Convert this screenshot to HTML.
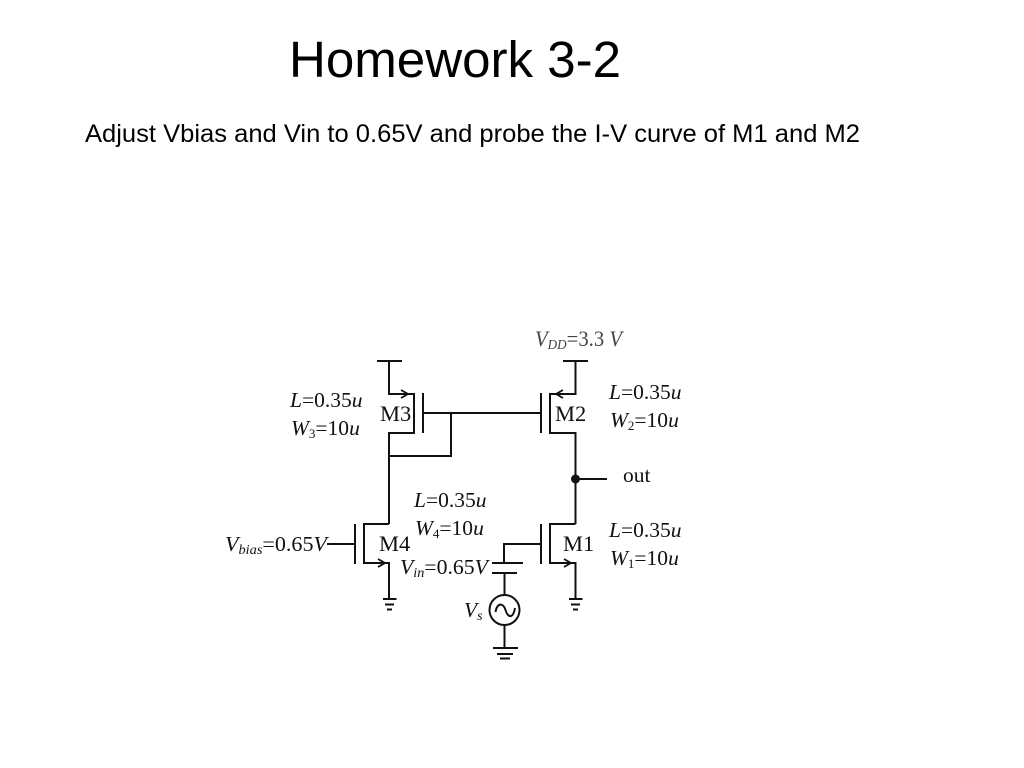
<!DOCTYPE html>
<html>
<head>
<meta charset="utf-8">
<style>
html,body{margin:0;padding:0;background:#fff;width:1024px;height:768px;overflow:hidden}
svg{display:block}
.s{font-family:"Liberation Sans",sans-serif;fill:#000}
.t{font-family:"Liberation Serif",serif;fill:#111;font-size:21.5px}
.m{font-size:22.5px}
.i{font-style:italic}
.w{fill:none;stroke:#111;stroke-width:2}
</style>
</head>
<body>
<svg width="1024" height="768" viewBox="0 0 1024 768" xmlns="http://www.w3.org/2000/svg">
<text class="s" x="289" y="77" font-size="50.600" textLength="332" lengthAdjust="spacingAndGlyphs">Homework 3-2</text>
<text class="s" x="85" y="142" font-size="25.200" textLength="775" lengthAdjust="spacingAndGlyphs">Adjust Vbias and Vin to 0.65V and probe the I-V curve of M1 and M2</text>

<g class="w">
<!-- M3 -->
<path d="M377 361H402M389 361V394H414V433H389V524"/>
<path d="M423 393V433"/>
<path d="M423 413H541"/>
<path d="M451 413V456H389"/>
<path d="M401 390L408 394L401 398" stroke-width="1.800"/>
<!-- M2 -->
<path d="M563 361H588M575.500 361V394H550V433H575.500V524"/>
<path d="M541 393V433"/>
<path d="M563 390L556 394L563 398" stroke-width="1.800"/>
<!-- out -->
<path d="M575 479H607"/>
<!-- M4 -->
<path d="M389 524H364V563H389V599"/>
<path d="M355 524V564"/>
<path d="M327 544H355"/>
<path d="M378 559L385 563L378 567" stroke-width="1.800"/>
<path d="M383 599H396.500M385 604.500H394M387 609.500H392"/>
<!-- M1 -->
<path d="M575.500 524H550V563H575.500V599"/>
<path d="M541 524V564"/>
<path d="M541 544H504V563"/>
<path d="M564 559L571 563L564 567" stroke-width="1.800"/>
<path d="M569 599H582.500M571 604.500H580M573 609.500H578"/>
<!-- source -->
<path d="M492 563H523"/>
<path d="M492 573H517"/>
<path d="M504.500 573V595"/>
<circle cx="504.500" cy="610" r="15"/>
<path d="M495.500 612C497 603 503 602 505.500 610C508 618 513 619 515 608"/>
<path d="M504.500 625V648"/>
<path d="M493 648H518M497 654H513M500 658.500H510"/>
</g>
<circle cx="575.500" cy="479" r="4.500" fill="#111"/>

<text class="t m" x="380" y="421">M3</text>
<text class="t m" x="555" y="421">M2</text>
<text class="t m" x="379" y="551">M4</text>
<text class="t m" x="563" y="551">M1</text>
<text class="t" x="623" y="482">out</text>

<text class="t" x="290" y="407"><tspan class="i">L</tspan>=0.35<tspan class="i">u</tspan></text>
<text class="t" x="291" y="435"><tspan class="i">W</tspan><tspan font-size="13" dy="3">3</tspan><tspan dy="-3">=10</tspan><tspan class="i">u</tspan></text>

<text class="t" x="609" y="399"><tspan class="i">L</tspan>=0.35<tspan class="i">u</tspan></text>
<text class="t" x="610" y="427"><tspan class="i">W</tspan><tspan font-size="13" dy="3">2</tspan><tspan dy="-3">=10</tspan><tspan class="i">u</tspan></text>

<text class="t" x="609" y="537"><tspan class="i">L</tspan>=0.35<tspan class="i">u</tspan></text>
<text class="t" x="610" y="565"><tspan class="i">W</tspan><tspan font-size="13" dy="3">1</tspan><tspan dy="-3">=10</tspan><tspan class="i">u</tspan></text>

<text class="t" x="414" y="507"><tspan class="i">L</tspan>=0.35<tspan class="i">u</tspan></text>
<text class="t" x="415" y="535"><tspan class="i">W</tspan><tspan font-size="13" dy="3">4</tspan><tspan dy="-3">=10</tspan><tspan class="i">u</tspan></text>

<text class="t" x="225" y="551" textLength="102" lengthAdjust="spacingAndGlyphs"><tspan class="i">V</tspan><tspan class="i" font-size="14" dy="3">bias</tspan><tspan dy="-3">=0.65</tspan><tspan class="i">V</tspan></text>
<text class="t" x="400" y="574" textLength="88" lengthAdjust="spacingAndGlyphs"><tspan class="i">V</tspan><tspan class="i" font-size="14" dy="3">in</tspan><tspan dy="-3">=0.65</tspan><tspan class="i">V</tspan></text>
<text class="t i" x="464" y="617">V<tspan font-size="14" dy="3">s</tspan></text>
<text class="t" style="fill:#444;font-size:22px" x="535" y="346" textLength="87" lengthAdjust="spacingAndGlyphs"><tspan class="i">V</tspan><tspan class="i" font-size="14" dy="3">DD</tspan><tspan dy="-3">=3.3 </tspan><tspan class="i">V</tspan></text>
</svg>
</body>
</html>
